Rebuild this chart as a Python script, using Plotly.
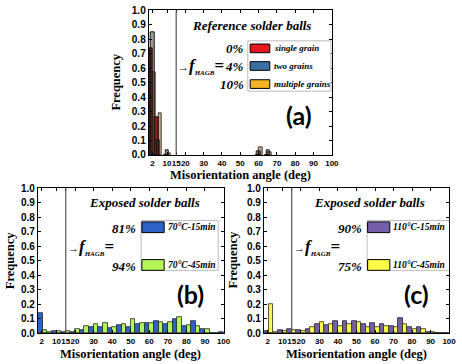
import plotly.graph_objects as go

# ---------------- data ----------------
# panel (a): reference solder balls
bins_a = [2, 5, 10, 60, 65]
single_grain = [0.74, 0.26, 0.0, 0.0, 0.0]
two_grains = [0.85, 0.10, 0.03, 0.025, 0.035]
multiple_grains = [0.57, 0.29, 0.01, 0.055, 0.02]

# panels (b) and (c): exposed solder balls
bins_bc = [2.5, 5, 10, 15, 20, 25, 30, 35, 40, 45, 50, 55, 60, 65, 70, 75, 80, 85, 90, 95, 100]
b_70C_15min = [0.14, 0.0, 0.012, 0.01, 0.01, 0.02, 0.04, 0.04, 0.035, 0.055, 0.045,
               0.065, 0.067, 0.08, 0.06, 0.10, 0.05, 0.08, 0.03, 0.0, 0.004]
b_70C_45min = [0.022, 0.01, 0.012, 0.012, 0.03, 0.05, 0.06, 0.066, 0.045, 0.065, 0.095,
               0.067, 0.067, 0.075, 0.075, 0.11, 0.055, 0.05, 0.03, 0.0, 0.0]
c_110C_15min = [0.015, 0.0, 0.022, 0.025, 0.022, 0.025, 0.065, 0.055, 0.08, 0.085, 0.08,
                0.065, 0.07, 0.065, 0.05, 0.105, 0.04, 0.04, 0.01, 0.0, 0.0]
c_110C_45min = [0.2, 0.005, 0.015, 0.022, 0.015, 0.045, 0.075, 0.06, 0.05, 0.065, 0.075,
                0.04, 0.045, 0.05, 0.045, 0.065, 0.03, 0.03, 0.005, 0.0, 0.0]

x_tickvals = [2, 10, 15, 20, 30, 40, 50, 60, 70, 80, 90, 100]
y_tickvals = [0.0, 0.1, 0.2, 0.3, 0.4, 0.5, 0.6, 0.7, 0.8, 0.9, 1.0]
y_ticktext = ["0.0", "0.1", "0.2", "0.3", "0.4", "0.5", "0.6", "0.7", "0.8", "0.9", "1.0"]
HAGB_THRESHOLD = 15

names_a = ["single grain", "two grains", "multiple grains"]
fhagb_a = ["0%", "4%", "10%"]
names_b = ["70°C-15min", "70°C-45min"]
fhagb_b = ["81%", "94%"]
names_c = ["110°C-15min", "110°C-45min"]
fhagb_c = ["90%", "75%"]

# ---------------- styles ----------------
W, H = 462, 364
SERIF = "Liberation Serif"
SANS = "Liberation Sans"
legend_a_colors = ["#e3171f", "#3a6ea5", "#f2b425"]
col_b = ["#2f62c4", "#b4f55a"]
col_c = ["#7460aa", "#fbfb45"]

fig = go.Figure()

# panel (a) bars
fig.add_bar(x=bins_a, y=multiple_grains, width=1.8, offset=0.2, xaxis="x", yaxis="y",
            marker=dict(color="#c2ad95", line=dict(color="#4a3c30", width=1)), showlegend=False)
fig.add_bar(x=bins_a, y=single_grain, width=1.8, offset=-1.6, xaxis="x", yaxis="y",
            marker=dict(color="#8e1b1b", line=dict(color="#2b0505", width=1)), showlegend=False)
fig.add_bar(x=bins_a, y=two_grains, width=1.8, offset=-0.8, xaxis="x", yaxis="y",
            marker=dict(color="rgba(45,35,35,0.45)", line=dict(color="#111", width=1)), showlegend=False)

# panel (b) bars
fig.add_bar(x=bins_bc, y=b_70C_15min, width=2.5, offset=-2.5, xaxis="x2", yaxis="y2",
            marker=dict(color=col_b[0], line=dict(color="#1a1f33", width=0.8)), showlegend=False)
fig.add_bar(x=bins_bc, y=b_70C_45min, width=2.5, offset=0, xaxis="x2", yaxis="y2",
            marker=dict(color=col_b[1], line=dict(color="#1f2a1a", width=0.8)), showlegend=False)

# panel (c) bars
fig.add_bar(x=bins_bc, y=c_110C_15min, width=2.5, offset=-2.5, xaxis="x3", yaxis="y3",
            marker=dict(color=col_c[0], line=dict(color="#1f1a33", width=0.8)), showlegend=False)
fig.add_bar(x=bins_bc, y=c_110C_45min, width=2.5, offset=0, xaxis="x3", yaxis="y3",
            marker=dict(color=col_c[1], line=dict(color="#2a2a10", width=0.8)), showlegend=False)

def xax(domain, anchor):
    return dict(domain=domain, anchor=anchor, range=[0, 100], tickvals=x_tickvals,
                ticks="inside", ticklen=3, tickcolor="black", mirror="ticks", showline=True,
                linecolor="black", linewidth=1, showgrid=False, zeroline=False, tickangle=0,
                tickfont=dict(family=SANS, size=8, color="black", weight="bold"))

def yax(domain, anchor):
    return dict(domain=domain, anchor=anchor, range=[0, 1.0], tickvals=y_tickvals,
                ticktext=y_ticktext, ticks="inside", ticklen=3, tickcolor="black",
                mirror="ticks", showline=True, linecolor="black", linewidth=1,
                showgrid=False, zeroline=False,
                tickfont=dict(family=SANS, size=10, color="black", weight="bold"))

dom_a_x = [151 / W, 337 / W]
dom_a_y = [1 - 154 / H, 1 - 4.5 / H]
dom_b_x = [38.5 / W, 227 / W]
dom_c_x = [268 / W, 456 / W]
dom_bc_y = [1 - 338.3 / H, 1 - 188.3 / H]

fig.update_layout(
    width=W, height=H, autosize=False, margin=dict(l=0, r=0, t=0, b=0),
    paper_bgcolor="white", plot_bgcolor="white", barmode="overlay", bargap=0,
    xaxis=xax(dom_a_x, "y"), yaxis=yax(dom_a_y, "x"),
    xaxis2=xax(dom_b_x, "y2"), yaxis2=yax(dom_bc_y, "x2"),
    xaxis3=xax(dom_c_x, "y3"), yaxis3=yax(dom_bc_y, "x3"),
)

shapes = []
annotations = []

def txt(x, y, text, xref, yref, size, xanchor="center", family=SERIF, angle=0, color="black"):
    annotations.append(dict(x=x, y=y, xref=xref, yref=yref, text=text, showarrow=False,
                            xanchor=xanchor, yanchor="middle", textangle=angle,
                            font=dict(family=family, size=size, color=color)))

def rect(x0, x1, y0, y1, xref, yref, fill, line="black", lw=1):
    shapes.append(dict(type="rect", x0=x0, x1=x1, y0=y0, y1=y1, xref=xref, yref=yref,
                       fillcolor=fill, line=dict(color=line, width=lw), layer="above"))

FH = ("<span style='font-size:11px'>→</span><b><i>f</i></b>"
      "<sub><b><i><span style='font-size:7px'>HAGB</span></i></b></sub><b>=</b>")

# vertical HAGB threshold lines
for xr, yr in [("x", "y"), ("x2", "y2"), ("x3", "y3")]:
    shapes.append(dict(type="line", x0=HAGB_THRESHOLD, x1=HAGB_THRESHOLD, y0=0, y1=1,
                       xref=xr, yref=yr, line=dict(color="#555555", width=1.2)))

# ---- panel (a) decorations ----
txt(56, 0.896, "<b><i>Reference solder balls</i></b>", "x", "y", 13)
rect(54.1, 99.5, 0.441, 0.789, "x", "y", "white", "#aaaaaa", 0.8)
for i, yc in enumerate([0.737, 0.615, 0.49]):
    rect(55.4, 66.1, yc - 0.03, yc + 0.03, "x", "y", legend_a_colors[i])
    txt(67.4, yc, "<b><i>" + names_a[i] + "</i></b>", "x", "y", 9, "left")
    txt(53.2, yc, "<b><i>" + fhagb_a[i] + "</i></b>", "x", "y", 13, "right")
txt(15.0, 0.612, FH, "x", "y", 17, "left")
txt(82, 0.274, "<b>(a)</b>", "x", "y", 25, family="Lato")

# ---- panel (b) decorations ----
txt(57.4, 0.90, "<b><i>Exposed solder balls</i></b>", "x2", "y2", 13)
rect(55.6, 97.1, 0.433, 0.777, "x2", "y2", "white", "#aaaaaa", 0.8)
for i, yc in enumerate([0.73, 0.47]):
    rect(56, 68, yc - 0.037, yc + 0.037, "x2", "y2", col_b[i])
    txt(68.8, yc, "<b><i>" + names_b[i] + "</i></b>", "x2", "y2", 9.5, "left")
    txt(53.8, yc - 0.01, "<b><i>" + fhagb_b[i] + "</i></b>", "x2", "y2", 13, "right")
txt(15.3, 0.589, FH, "x2", "y2", 17, "left")
txt(82, 0.267, "<b>(b)</b>", "x2", "y2", 25, family="Lato")

# ---- panel (c) decorations ----
txt(57, 0.90, "<b><i>Exposed solder balls</i></b>", "x3", "y3", 13)
rect(55.7, 101.5, 0.433, 0.777, "x3", "y3", "white", "#aaaaaa", 0.8)
for i, yc in enumerate([0.73, 0.47]):
    rect(56, 68, yc - 0.037, yc + 0.037, "x3", "y3", col_c[i])
    txt(68.5, yc, "<b><i>" + names_c[i] + "</i></b>", "x3", "y3", 9.5, "left")
    txt(54.3, yc - 0.01, "<b><i>" + fhagb_c[i] + "</i></b>", "x3", "y3", 13, "right")
txt(15.2, 0.589, FH, "x3", "y3", 17, "left")
txt(82.3, 0.268, "<b>(c)</b>", "x3", "y3", 25, family="Lato")

# ---- axis titles ----
ytitle = "<b>Frequency</b>"
xtitle = "<b>Misorientation angle (deg)</b>"
txt(118 / W, 1 - 79 / H, ytitle, "paper", "paper", 12.5, angle=-90)
txt(10 / W, 1 - 263 / H, ytitle, "paper", "paper", 12.5, angle=-90)
txt(236.7 / W, 1 - 263 / H, ytitle, "paper", "paper", 12.5, angle=-90)
txt(244 / W, 1 - 175 / H, xtitle, "paper", "paper", 12.5)
txt(133 / W, 1 - 360 / H, xtitle, "paper", "paper", 12.5)
txt(362 / W, 1 - 360 / H, xtitle, "paper", "paper", 12.5)

fig.update_layout(shapes=shapes, annotations=annotations)
fig.write_html("out.html")
